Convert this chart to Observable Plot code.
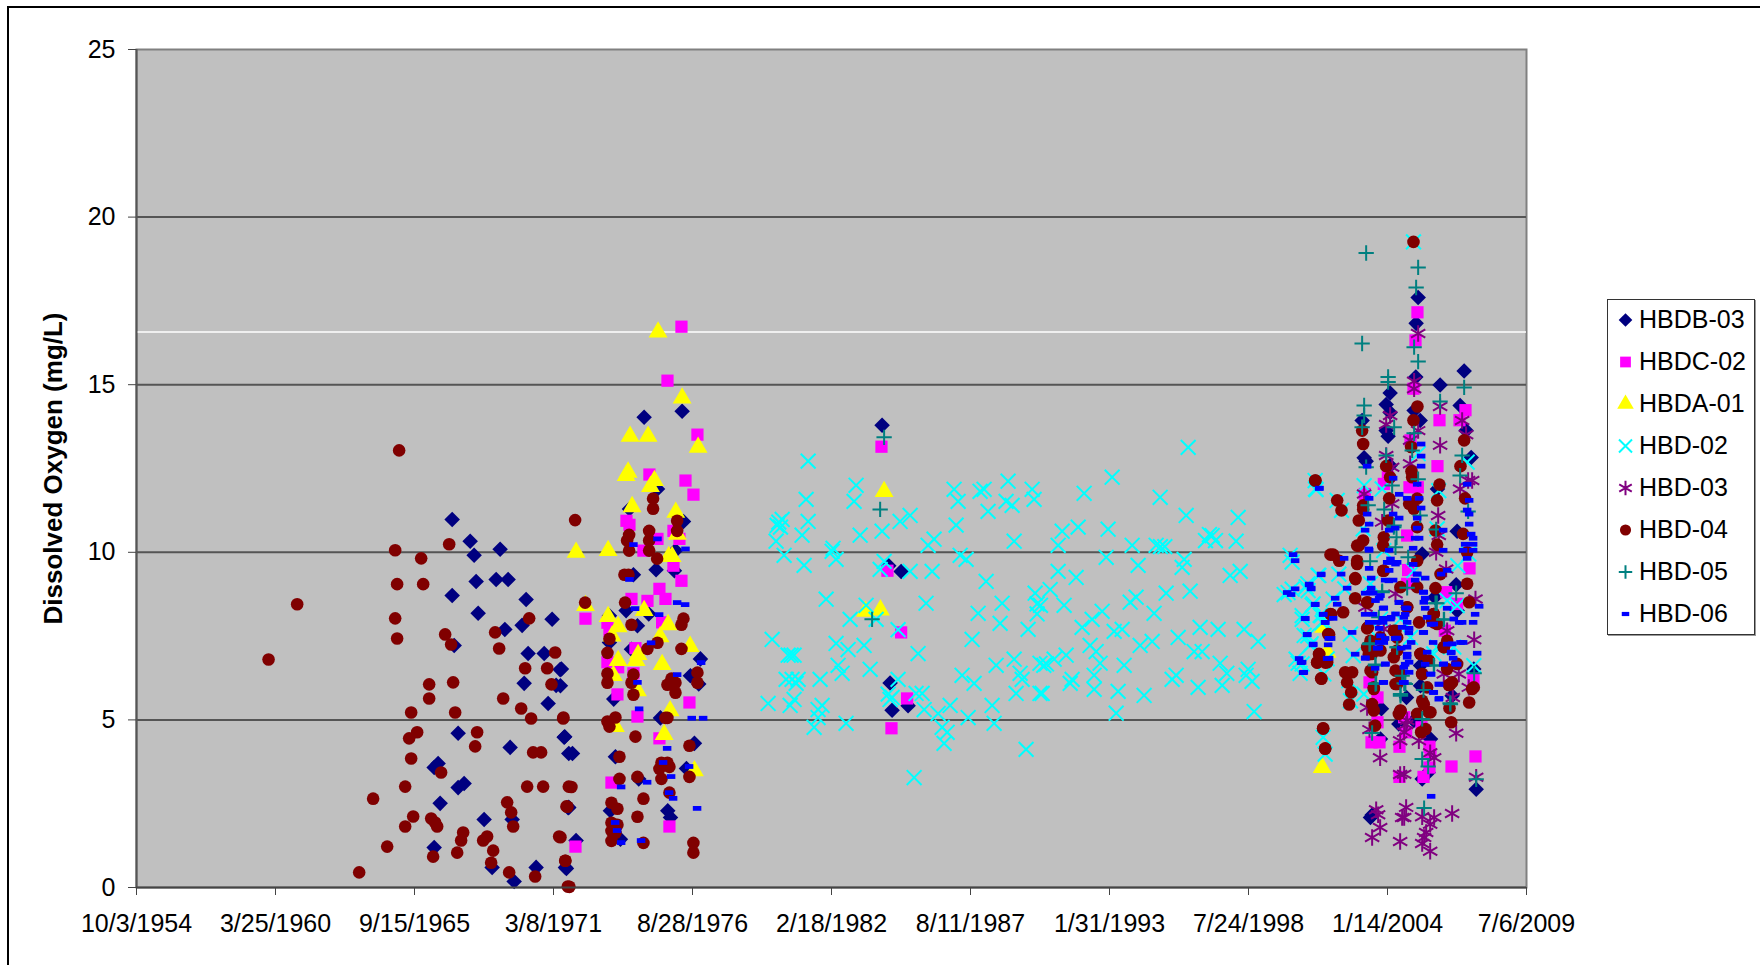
<!DOCTYPE html>
<html><head><meta charset="utf-8">
<script src="https://cdn.jsdelivr.net/npm/d3@7"></script>
<script src="https://cdn.jsdelivr.net/npm/@observablehq/plot@0.6"></script>
<style>
html,body{margin:0;padding:0;background:#fff;width:1760px;height:965px;overflow:hidden}
#page{position:relative;width:1760px;height:965px}
#frame{position:absolute;left:7px;top:6px;right:0;bottom:0;border-left:2px solid #000;border-top:2px solid #000}
#chart{position:absolute;left:0;top:0}
#legend{position:absolute;left:1607px;top:299px;width:146px;height:334px;border:1px solid #333;background:#fff;box-shadow:1px 1px 0 #999;font-family:"Liberation Sans",Arial,sans-serif;font-size:25px;color:#000}
</style></head><body>
<div id="page"><div id="frame"></div><div id="chart"></div><div id="legend"></div></div>
<script>
// x values are Excel date serials (days); y values are mg/L
const xTicks=[20000,22000,24000,26000,28000,30000,32000,34000,36000,38000,40000];
const xTickLabels=["10/3/1954","3/25/1960","9/15/1965","3/8/1971","8/28/1976","2/18/1982","8/11/1987","1/31/1993","7/24/1998","1/14/2004","7/6/2009"];
const yTicks=[0,5,10,15,20,25];
const seriesNames=["HBDB-03","HBDC-02","HBDA-01","HBD-02","HBD-03","HBD-04","HBD-05","HBD-06"];
const hbdb03=[[24542,10.98],[24801,10.33],[25232,10.09],[24858,9.91],[24887,9.13],[25175,9.19],[25347,9.19],[24542,8.71],[25606,8.59],[24916,8.18],[25980,8],[25549,7.82],[25300,7.7],[24571,7.22],[25635,6.98],[25866,6.98],[26096,6.5],[25578,6.09],[26038,6.03],[25923,5.49],[24628,4.6],[26153,4.48],[25376,4.18],[26220,4],[24340,3.7],[24283,3.58],[24714,3.1],[24628,2.98],[24369,2.51],[25002,2.03],[25405,2.03],[24283,1.19],[25117,.6],[25750,.6],[26172,.6],[25434,.18],[26211,2.38],
[27304,14.03],[27851,14.21],[27496,11.89],[27093,11.29],[27870,10.92],[27755,10.05],[27476,9.48],[27150,9.33],[27740,9.45],[26805,8.11],[27045,8.26],[27371,8.16],[27208,7.81],[26805,7.31],[27122,7.11],[28114,6.82],[26114,6.52],[26100,6.02],[27970,6.32],[28090,6.07],[26867,5.62],[27539,5.06],[26162,4.5],[28028,4.3],[26273,4],[26891,3.9],[27913,3.55],[27227,3.24],[26220,2.39],[26819,2.29],[27644,2.29],[27683,2.09],[26325,1.4],[26963,1.44],[26186,.57],
[30728,13.79],[30824,9.6],[31002,9.43],[30843,6.1],[30872,5.29],[31102,5.42],
[38441,17.6],[38412,16.83],[38407,15.23],[38757,14.99],[39103,15.41],[39045,14.38],[38038,14.75],[37981,14.41],[38038,14.17],[38383,14.23],[38470,13.93],[37635,13.93],[37981,13.63],[38009,13.46],[39131,13.63],[37664,12.82],[37693,12.72],[38038,12.59],[39204,12.83],[38719,11.89],[39002,10.63],
[37779,2.16],[37755,2.09],[39276,2.93],[38499,3.24],[38585,3.43],[38619,4.43],[37913,5.33],[37899,4.43],[38163,4.88],[38273,5.67],[38988,9.03],[38681,8.66],[38930,5.72],[39242,6.52],[38475,6.02],[38475,6.62],[39002,8.26],[38379,4.98],[38499,9.95]];
const hbdc02=[[27841,16.73],[27640,15.12],[28071,13.51],[27380,12.32],[27899,12.14],[28014,11.72],[27050,10.94],[27093,10.82],[27726,10.64],[27812,10.4],[27496,10.4],[27294,10.05],[27726,9.6],[27841,9.15],[27524,8.91],[27611,8.61],[27122,8.61],[27352,8.55],[26460,8.02],[27179,7.14],[26776,6.72],[27150,6.39],[26920,5.76],[27956,5.52],[27208,5.1],[27524,4.45],[26834,3.13],[26316,1.22],[27668,1.82],[26776,7.9],[26805,7.66],[27563,7.91],[26930,6.57],
[30719,13.15],[30805,9.45],[31002,7.61],[31088,5.64],[30863,4.75],
[38431,17.16],[38403,16.32],[38374,14.88],[39122,14.24],[38748,13.94],[39036,13.94],[38719,12.57],[38331,13.34],[38005,12.24],[37947,12.04],[38316,11.94],[37674,11.74],[38436,11.94],[38283,10.5],
[37770,4.33],[37885,4.33],[38172,4.2],[38921,3.61],[38518,3.3],[38172,3.3],[39266,3.91],[38604,4.2],[39180,9.52],[38297,9.47],[38283,9.06],[38844,8.81],[39002,8.46],[37741,6.12],[37856,5.67],[37856,4.93],[38240,5.08],[38268,4.63],[38489,4.78],[39237,6.22],[38825,7.66],[38619,3.98],[38604,3.58]];
const hbda01=[[27505,16.57],[27851,14.6],[27102,13.46],[27361,13.46],[28081,13.13],[27074,12.39],[27045,12.29],[27452,12.14],[27395,11.96],[27131,11.36],[27759,11.19],[26325,10],[26786,10.05],[27783,10.54],[27659,9.87],[27707,9.87],[26786,8.08],[27304,8.26],[26930,7.78],[27649,7.84],[27534,7.48],[27966,7.19],[26843,7.5],[27217,6.95],[27189,6.77],[26930,6.77],[27563,6.65],[26862,6.32],[27208,5.87],[27678,5.27],[26891,4.8],[27592,4.56],[28028,3.48],[26460,8.41],
[30757,11.81],[30489,8.24],[30704,8.28],[37060,3.58],[37083,7.76],[37131,7.02]];
const hbd02=[[29664,12.72],[30354,12],[29635,11.58],[30325,11.52],[29664,10.92],[29290,10.98],[29242,10.9],[29218,10.8],[29266,10.75],[29577,10.51],[30412,10.51],[30728,10.63],[30987,10.92],[31131,11.1],[29203,10.33],[29318,9.91],[29606,9.61],[30023,10.12],[30009,10.03],[30066,9.79],[30757,9.73],[30700,9.49],[31131,9.43],[31476,10.39],[31390,10.21],[31448,9.43],[31764,11.88],[31822,11.52],[31793,10.81],[32138,11.82],[32196,11.88],[32253,11.22],[32541,12.12],[32512,11.52],[32599,11.4],[32887,11.88],[32915,11.58],[32628,10.33],[31851,9.91],[31937,9.79],[32225,9.13],[29923,8.6],[30498,8.42],[30268,8],[30642,8],[31361,8.48],[32455,8.48],[32110,8.18],[32930,8.78],[32958,8.46],[32958,8.16],[32426,7.88],[32829,7.7],[30958,7.69],[29146,7.4],[30066,7.28],[30239,7.1],[30469,7.22],[32023,7.4],[29376,6.93],[29419,6.93],[29462,6.93],[31246,6.98],[32628,6.81],[32369,6.63],[30095,6.63],[30153,6.39],[30556,6.51],[31879,6.33],[32052,6.09],[29347,6.21],[29433,6.21],[29520,6.21],[29491,6.09],[29836,6.21],[30958,6.21],[32714,6.39],[32743,6.21],[33000,6.69],[33000,5.79],[32656,5.79],[29088,5.49],[29405,5.43],[29462,5.61],[29865,5.43],[29807,5.31],[29807,5.07],[29750,4.78],[30210,4.9],[30815,5.77],[30843,5.61],[30872,5.67],[31217,5.79],[31304,5.79],[31333,5.31],[31534,5.19],[31707,5.43],[31966,5.07],[32311,5.43],[32340,4.9],[31592,4.78],[31664,4.63],[31620,4.3],[32800,4.12],[31189,3.28],
[35132,13.13],[34038,12.24],[33635,11.76],[34729,11.64],[35103,11.1],[35851,11.04],[33319,10.63],[33549,10.75],[33980,10.69],[33261,10.21],[34326,10.21],[34671,10.21],[34733,10.17],[34796,10.17],[35381,10.35],[35438,10.53],[35477,10.5],[35525,10.35],[35822,10.33],[33952,9.85],[34412,9.61],[35074,9.79],[35045,9.55],[33261,9.43],[33520,9.25],[35736,9.31],[35880,9.43],[33146,8.89],[34815,8.78],[35160,8.84],[34383,8.66],[34297,8.51],[33007,8.42],[33347,8.42],[33894,8.24],[34642,8.18],[33750,8],[33606,7.76],[34067,7.64],[34182,7.7],[35304,7.76],[35563,7.7],[35937,7.7],[34988,7.46],[34614,7.34],[34441,7.22],[36139,7.34],[33721,7.22],[33808,7.04],[35218,7.04],[35333,7.04],[33376,6.93],[33204,6.81],[33055,6.63],[33093,6.67],[33865,6.69],[34211,6.63],[35592,6.69],[35995,6.51],[34959,6.33],[34901,6.21],[35688,6.39],[35966,6.33],[33779,6.33],[33462,6.21],[33434,6.09],[36052,6.15],[33779,5.91],[34124,5.85],[35275,5.97],[35621,6.03],[33031,5.79],[34498,5.73],[34096,5.2],[36081,5.25],
[36599,9.91],[36628,9.71],[37002,9.31],[36959,12.14],[36973,11.87],[36513,8.74],[36570,8.8],[36628,8.9],[36829,8.97],[36858,8.86],[36916,8.42],[36772,8],[37031,8.12],[37060,7.9],[36801,7.52],[36887,7.22],[36685,6.81],[36714,6.69],[36743,6.39],[37074,4.48],[37103,3.98],
[38374,19.26],[36964,11.89],[37664,11.99],[37276,11.55],[37338,11.25],[37650,10.7],[39146,12.69],[38441,12.94],[37923,11.89],[38738,11.84],[38714,10.7],
[37012,9.31],[36853,9.06],[37300,9.35],[37386,8.91],[37218,8.6],[36930,8.46],[37045,8.11],[36772,8.11],[36853,7.51],[37074,7.96],[36901,7.27],[37132,6.82],[37467,7.56],[37506,6.92],[36772,6.67],[39012,9.6],[39170,9.95],[38858,8.56],[39002,8.41],[39242,6.62],[38714,7.17],[37851,7.46],[37899,8.01],[38187,8.01],[38379,9.45],[37947,10.05],[37755,9.06],[37659,5.77],[38331,7.46],[38666,6.97],[38954,7.17],[37443,6.17],[37467,5.57],[37084,6.37]];
const hbd03=[[38441,16.53],[38383,15.1],[38383,14.88],[38757,14.35],[39074,13.93],[38038,14.08],[37981,13.81],[38441,13.63],[39131,13.51],[38757,13.19],[38326,13.34],[37981,12.89],[38326,12.64],[38067,12.54],[37664,11.74],[39045,11.89],[39160,12.14],[39218,12.14],[38067,11.45],[38729,11.1],[37923,10.9],[38738,10.5],
[37741,4.71],[38182,4.38],[38268,4.86],[38240,4.63],[38988,4.6],[37894,3.87],[38614,4.02],[38671,3.87],[38240,3.38],[38182,3.37],[37837,2.32],[37865,2.17],[37894,1.79],[37779,1.49],[38268,2.39],[38240,2.09],[38211,2.09],[38499,2.11],[38671,2.09],[38614,1.89],[38930,2.21],[38182,1.37],[38556,1.64],[38527,1.49],[38499,1.31],[38614,1.08],[39276,3.29],
[38844,9.5],[39247,7.39],[39266,8.61],[38700,10],[38115,8.76],[39026,6.37],[38810,6.37],[38940,5.67],[37707,5.37],[37683,8.36],[38451,4.38],[38283,4.98],[37947,7.71],[38858,7.66],[39170,5.97]];
const hbd04=[[23779,13.04],[23722,10.06],[24096,9.82],[24499,10.24],[23750,9.05],[24125,9.05],[22312,8.45],[23722,8.03],[23750,7.43],[24441,7.55],[24527,7.25],[25160,7.61],[25650,8.03],[25218,7.13],[21900,6.8],[26024,7.01],[25592,6.54],[25909,6.54],[24211,6.06],[24556,6.12],[24211,5.64],[25971,6.06],[25276,5.64],[25535,5.34],[23952,5.22],[24585,5.22],[25678,5.04],[26139,5.04],[24038,4.63],[23923,4.45],[24901,4.63],[24873,4.21],[25707,4.03],[25822,4.03],[23952,3.85],[24383,3.43],[23866,3.01],[25621,3.01],[25851,3.01],[26220,3.01],[23405,2.65],[25333,2.54],[25391,2.24],[23981,2.12],[24240,2.06],[24297,1.94],[24326,1.82],[23866,1.82],[25420,1.82],[26187,2.42],[24700,1.64],[24671,1.4],[25045,1.52],[24988,1.4],[26081,1.52],[23607,1.22],[25132,1.1],[24614,1.04],[24268,.92],[26168,.8],[25103,.74],[23204,.45],[25362,.45],[25736,.33],[26206,.03],[26311,10.96],
[27433,11.6],[27433,11.3],[27779,10.94],[27779,10.64],[27088,10.52],[27059,10.35],[27376,10.64],[27376,10.35],[27376,10.05],[27088,10.05],[27491,9.81],[27021,9.33],[27078,9.33],[26455,8.5],[27030,8.5],
[27870,8.02],[27841,7.84],[27122,7.84],[26805,7.42],[26776,7],[27496,7.3],[27352,7.12],[27841,7.12],[26776,6.38],[26776,6.11],[27150,6.35],[27122,6.11],[27697,6.23],[27755,6.11],[27639,6.05],[28071,6.41],[28071,6.11],[27755,5.81],[27150,5.75],[26891,5.07],[26776,4.95],[26805,4.8],[26143,5.07],[27179,4.5],[27611,5.06],[27639,5.06],[27956,4.23],[26949,3.9],[27553,3.72],[27639,3.72],[27524,3.54],[27668,3.6],[27553,3.24],[26949,3.24],[27208,3.3],[27956,3.3],[26258,3],[27668,2.83],[27294,2.65],[26201,2.41],[26834,2.53],[26920,2.35],[27208,2.11],[26834,1.93],[26920,1.87],[26834,1.69],[26892,1.63],[26834,1.39],[27294,1.33],[28013,1.33],[28013,1.04],[26172,.8],[26100,1.5],[26229,.02],
[36959,12.14],[37016,6.97],[36988,6.71],[37107,6.71],[37050,6.23],[37074,4.74],[37103,4.14],[37179,8.16],[37146,7.56],[37179,9.93],
[38374,19.26],[38431,14.35],[38374,13.94],[37635,13.63],[37650,13.23],[39103,13.34],[38340,13.14],[37981,12.57],[39050,12.57],[38345,12.42],[38038,12.24],[38355,12.24],[36964,12.14],[38748,12.02],[37276,11.55],[37338,11.25],[39117,11.61],[38714,11.55],[38024,11.61],[37650,11.4],[37650,11.28],[38427,11.6],[38311,11.45],[38379,11.3],[37587,10.95],[38009,10.95],[38427,10.75],[38690,10.65],[39088,10.55],[37650,10.35],[37947,10.45],
[37218,9.93],[37304,9.75],[37587,10.2],[37563,9.65],[37535,9.23],[37937,10.2],[38714,10.23],[37937,9.45],[38427,9.75],[37535,8.63],[37362,8.21],[37189,8.15],[37160,7.55],[37707,8.51],[37707,7.73],[37707,7.17],[37016,6.96],[36988,6.72],[37132,6.72],[37045,6.24],[37391,6.42],[37491,6.42],[37419,6.12],[37477,5.82],[37448,5.46],[37074,4.75],[37103,4.15],[37822,4.83],[37779,5.47],[37803,5.28],[37803,5.97],[38187,5.28],[38163,5.18],[38427,5.18],[38484,4.63],[38547,4.73],[38595,5.23],[38499,5.57],[38499,6.37],[38475,6.97],[38595,6.77],[38930,6.12],[38882,6.04],[38916,4.93],[38892,5.35],[39175,5.52],[39218,5.92],[39242,5.97],[39146,9.06],[39175,8.51],[38690,8.93],[38762,9.35],[38455,7.91],[38666,8.16],[38714,7.86],[38810,7.17],[38858,7.36],[39002,6.67],[38858,6.52],[38091,7.66],[38139,7.46],[38139,7.07],[38115,6.07],[38187,6.37],[38283,8.36],[37899,7.07],[37779,6.42],[37779,6.97],[37899,7.46],[38427,8.96],[38187,8.96],[38642,7.96],[39146,10],
[37563,10.2],[37539,9.2],[37717,8.5],[37717,7.76],[37755,7.36],[37731,6.96],[37755,6.47],[37803,5.92],[38115,7.66],[38091,6.87],[38115,6.47],[38139,6.07],[38187,5.27],[38474,6.97],[38498,6.37],[38570,5.97],[38522,5.47],[38618,5.23],[38666,8.16],[38666,7.91],[38810,7.17],[38906,6.07],[38282,8.36],[37947,9.45],[37563,9.75]];
const hbd05=[[30757,13.43],[30700,11.28],[30584,8],
[37693,18.93],[38441,18.5],[38412,17.9],[37635,16.23],[38383,16.12],[38441,15.69],[38009,15.23],[38009,15.08],[39103,14.92],[38757,14.5],[37664,14.38],[37664,14.08],[37635,13.73],[38096,13.73],[38383,13.55],[37981,12.89],[38355,13.04],[37693,12.54],[39074,12.89],[38067,11.99],[38441,12.18],[39045,12.29],[37722,11.4],[37952,11.28],[38096,10.8],[38470,11.1],[39160,11.22],[38700,10.68],[38130,10.45],
[37779,4.61],[38499,3.83],[38585,3.61],[38527,2.37],[39276,3.23],[38499,5.03],[38901,5.5],[38518,5.89],[37837,6.09],[38187,5.72],[38240,6.09],[39247,6.39],[38671,6.62],[37827,6.65],[38211,6.32],[38139,7.17],[37750,7.29],[38815,8],[38710,8.48],[38988,8.78],[37923,8.84],[38283,8.94],[38297,9.85],[37750,9.73],[38115,10.15],
[37923,8.81],[37875,8.06],[37740,7.26],[38139,7.17],[37827,6.62],[38258,6.07],[38187,5.77],[38690,8.48],[38810,7.99],[38666,6.62],[38906,5.47],[37827,6.07],[38091,10.75]];
const hbd06=[[27150,10.23],[27496,10.4],[27899,10.1],[27093,9.19],[27174,8.32],[27894,8.44],[27779,8.5],[27520,8.14],[27404,7.3],[28124,6.71],[27779,6.35],[27208,6.12],[27232,5.33],[27989,5.05],[28153,5.05],[27635,4.15],[27577,3.73],[27951,3.61],[27692,3.31],[27347,3.14],[26973,3],[27663,2.83],[27721,2.66],[28066,2.36],[26887,1.94],[26915,1.7],[26973,1.34],[27260,1.4],
[36642,9.93],[36671,9.75],[37045,9.33],[37016,11.91],[36556,8.8],[36613,8.74],[36671,8.91],[36872,9.03],[36901,8.91],[36959,8.44],[36815,8.02],[37074,8.15],[37103,7.91],[36844,7.54],[36930,7.24],[36728,6.83],[36757,6.71],[36786,6.41],[37131,6.83],[37146,7.24],[37155,7.43],
[37021,11.91],[37707,12.57],[38081,12.21],[38484,13.23],[38484,12.87],[38484,12.57],[38427,12.03],[37736,11.61],[38168,11.73],[38455,11.61],[37707,11.14],[38081,11.14],[38168,11.02],[38484,11.32],[37736,10.84],[37678,10.66],[38024,10.66],[38110,10.72],[38427,11.02],[38427,10.72],[38398,10.42],[38455,10.42],[38801,10.66],[39146,12.03],[39175,11.55],[39175,11.14],[39146,11.26],[39175,10.84],[39204,10.54],[39232,10.42],[38283,11.61],
[37376,9.82],[37333,9.35],[37419,8.93],[37247,8.63],[37276,8.45],[36959,8.45],[36873,9.05],[36901,8.93],[37045,9.35],[36815,8.03],[37074,8.15],[37103,7.91],[37218,8.03],[36844,7.55],[36930,7.26],[37189,7.43],[37160,6.84],[37491,7.61],[37535,6.96],[36772,6.72],[36796,6.42],[37736,10.06],[37736,9.52],[37765,9.23],[37765,8.93],[37678,8.78],[37793,8.78],[37880,8.63],[37937,8.33],[37678,8.15],[37793,8.15],[37937,8.03],[37736,7.91],[37937,7.91],[37880,7.73],[37966,7.43],[37880,7.31],[37851,7.14],[37678,6.84],[37822,6.54],[37966,6.66],[37937,6.12],[38024,10.06],[38024,9.7],[38139,9.7],[38024,9.46],[37966,9.17],[38081,9.17],[38168,8.51],[38053,8.06],[38110,7.43],[38283,8.33],[38254,8.15],[38283,7.91],[38311,7.73],[38340,7.31],[38197,7.14],[38283,6.96],[38311,6.72],[38254,6.66],[38311,6.42],[38225,6.12],[38369,10.12],[38369,9.64],[38427,9.35],[38398,9.17],[38542,9.23],[38513,8.81],[38542,8.63],[38542,8.33],[38628,7.85],[38513,7.61],[38657,7.31],[38571,7.02],[38542,6.66],[38628,6.36],[38743,6.06],[38657,5.82],[38743,5.64],[38801,10.06],[38772,9.35],[38858,9.46],[38858,8.33],[39031,7.91],[39088,7.31],[38858,7.26],[38945,6.84],[38801,6.66],[39002,6.66],[38916,7.02],[39117,10.24],[39232,10.24],[39088,10.06],[39232,10.06],[39146,9.82],[39319,8.39],[39261,8.15],[39232,7.91],[39290,6.99],[38628,2.72],
[37731,10.1],[38043,9.8],[37995,9.7],[38115,9.65],[38019,9.15],[37755,8.8],[37899,8.71],[37827,8.56],[37947,8.34],[38163,8.5],[38258,8.34],[38115,8.16],[37851,7.91],[38043,8.01],[38235,8.06],[38210,7.76],[37899,7.51],[37947,7.31],[38139,7.44],[38307,7.6],[38282,7.17],[37875,7.15],[37683,6.85],[37971,6.67],[38282,6.87],[38235,6.57],[37947,6.12],[38244,6.12],[38426,9.35],[38522,8.81],[38522,8.51],[38570,8.06],[38666,7.86],[38954,8.01],[39074,7.91],[38930,7.27],[39050,7.31],[38978,6.67],[38810,6.67],[38522,7.61],[38618,6.37],[38738,6.07],[38666,5.82],[38738,5.62],[38916,7]];
const whiteLine=[16.57];

const dash={draw(c,size){const w=Math.sqrt(size)/2,h=w*0.56;c.moveTo(-w,-h);c.lineTo(w,-h);c.lineTo(w,h);c.lineTo(-w,h);c.closePath();}};
const styles=[
 {symbol:"diamond2",fill:"#000080",r:7},
 {symbol:"square",fill:"#ff00ff",r:6.9},
 {symbol:"triangle",fill:"#ffff00",r:7},
 {symbol:"times",stroke:"#00ffff",strokeWidth:2,r:6.8},
 {symbol:"asterisk",stroke:"#800080",strokeWidth:2,r:7.8},
 {symbol:"circle",fill:"#800000",r:6.3},
 {symbol:"plus",stroke:"#008080",strokeWidth:2,r:5},
 {symbol:dash,fill:"#0000ff",r:4.8}
];
const seriesData=[hbdb03,hbdc02,hbda01,hbd02,hbd03,hbd04,hbd05,hbd06];
const font='"Liberation Sans",Arial,sans-serif';
const chart=Plot.plot({
 width:1760,height:965,marginLeft:136,marginRight:234,marginTop:49,marginBottom:78,
 style:{background:"transparent",fontFamily:font,color:"#000"},
 x:{domain:[20000,40000],type:"linear"},
 y:{domain:[0,25]},
 marks:[
  Plot.frame({fill:"#c0c0c0",stroke:"#808080",strokeWidth:2}),
  Plot.ruleY(yTicks.slice(1,-1),{stroke:"#555",strokeWidth:2}),
  Plot.ruleY(whiteLine,{stroke:"#fff",strokeWidth:1.5}),
  ...seriesData.map((d,i)=>Plot.dot(d,{x:p=>p[0],y:p=>p[1],...styles[i]})),
  Plot.ruleX([20000],{stroke:"#555",strokeWidth:2}),
  Plot.ruleY([0],{stroke:"#444",strokeWidth:2}),
  Plot.axisX({ticks:xTicks,tickFormat:d=>xTickLabels[xTicks.indexOf(d)],label:null,tickSize:8,tickPadding:19,fontSize:25,stroke:"#444",fill:"#000"}),
  Plot.axisY({ticks:yTicks,label:null,tickSize:8,tickPadding:13,fontSize:25,stroke:"#444",fill:"#000"}),
  Plot.text(["Dissolved Oxygen (mg/L)"],{frameAnchor:"left",textAnchor:"middle",rotate:-90,dx:-83,fontWeight:"bold",fontSize:26,fill:"#000"})
 ]
});
document.getElementById("chart").append(chart);

// legend
const legend=d3.select("#legend");
const symbolMap={diamond2:d3.symbolDiamond2,square:d3.symbolSquare,triangle:d3.symbolTriangle,times:d3.symbolTimes,asterisk:d3.symbolAsterisk,circle:d3.symbolCircle,plus:d3.symbolPlus};
seriesNames.forEach((name,i)=>{
 const s=styles[i];
 const row=legend.append("div").style("position","absolute").style("left","0").style("top",(20+i*42.05-21)+"px").style("height","42px").style("width","146px");
 const svg=row.append("svg").attr("width",36).attr("height",42).style("position","absolute").style("left","0").style("top","0");
 const type=symbolMap[s.symbol]||s.symbol;
 const r=s.r*0.88;
 svg.append("path").attr("d",d3.symbol(type,Math.PI*r*r)()).attr("transform","translate(17.5,21)")
   .attr("fill",s.fill||"none").attr("stroke",s.stroke||"none").attr("stroke-width",s.strokeWidth||0);
 row.append("div").text(name).style("position","absolute").style("left","31px").style("top","0").style("line-height","40px");
});
</script>
</body></html>
